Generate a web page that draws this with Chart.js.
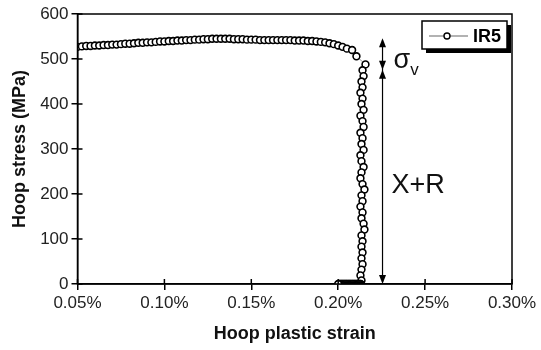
<!DOCTYPE html>
<html>
<head>
<meta charset="utf-8">
<script src="https://cdn.jsdelivr.net/npm/chart.js@4.4.1/dist/chart.umd.min.js"></script>
<style>
html,body{margin:0;padding:0;background:#fff;}
canvas{display:block;}
</style>
</head>
<body>
<canvas id="c" width="541" height="350"></canvas>
<script>
// ---- data (hoop plastic strain in %, hoop stress in MPa) ----
const seriesName = 'IR5';
const strain = [
  0.0500,0.0525,0.0550,0.0575,0.0600,0.0625,0.0650,0.0675,0.0700,0.0725,
  0.0750,0.0775,0.0800,0.0825,0.0850,0.0875,0.0900,0.0925,0.0950,0.0975,
  0.1000,0.1025,0.1050,0.1075,0.1100,0.1125,0.1150,0.1175,0.1200,0.1225,
  0.1250,0.1275,0.1300,0.1325,0.1350,0.1375,0.1400,0.1425,0.1450,0.1475,
  0.1500,0.1525,0.1550,0.1575,0.1600,0.1625,0.1650,0.1675,0.1700,0.1725,
  0.1750,0.1775,0.1800,0.1825,0.1850,0.1875,0.1900,0.1925,0.1950,0.1975,
  0.2000,0.2025,0.2050,0.2080,0.2105,0.2157,
  0.2140,0.2146,0.2134,0.2140,0.2128,0.2140,0.2134,0.2146,0.2128,0.2140,
  0.2146,0.2128,0.2140,0.2134,0.2146,0.2128,0.2134,0.2146,0.2134,0.2128,
  0.2140,0.2151,0.2134,0.2140,0.2128,0.2140,0.2134,0.2146,0.2151,0.2134,
  0.2140,0.2134,0.2140,0.2134,0.2140,0.2134,0.2128,0.2134,
  0.2130,0.2125,0.2120,0.2115,0.2110,0.2105,0.2100,0.2095,0.2090,0.2085,
  0.2080,0.2075,0.2070,0.2065,0.2060,0.2055,0.2050,0.2045,0.2040,0.2035,
  0.2030,0.2025,0.2020,0.2015,0.2010,0.2005,0.2000
];
const stress = [
  527,528,529,529,530,530,531,531,532,532,
  533,534,534,535,536,536,537,537,538,539,
  539,540,540,541,541,542,542,543,543,544,
  544,545,545,545,545,545,544,544,544,543,
  543,543,542,542,542,542,542,542,542,542,
  541,541,541,540,540,539,538,537,535,533,
  530,527,523,520,506,488,
  475,462,450,437,425,412,400,387,374,362,
  349,336,324,311,298,286,273,260,248,235,
  222,210,197,184,172,159,146,134,121,108,
  95,83,70,57,44,32,19,8,
  0,0,0,0,0,0,0,0,0,0,
  0,0,0,0,0,0,0,0,0,0,
  0,0,0,0,0,0,0
];
const xTicks = [0.05,0.10,0.15,0.20,0.25,0.30];
const yTicks = [0,100,200,300,400,500,600];
// annotation arrow: strain position, top (max stress), split (X+R level), bottom
const arrowStrain = 0.2255;
const arrowLevels = [546, 476, 0];
const labelSigma = 'σ';
const labelSigmaSub = 'v';
const labelXR = 'X+R';
const xTitle = 'Hoop plastic strain';
const yTitle = 'Hoop stress (MPa)';

const FONT = '"Liberation Sans", Arial, Helvetica, sans-serif';
const points = strain.map((s, i) => ({x: s, y: stress[i]}));

function head(ctx, x, y, dir, w, l) {
  ctx.beginPath();
  ctx.moveTo(x, y);
  ctx.lineTo(x - w / 2, y - dir * l);
  ctx.lineTo(x + w / 2, y - dir * l);
  ctx.closePath();
  ctx.fill();
}

const annot = {
  id: 'annot',
  afterDraw(chart) {
    const {ctx, chartArea: a, scales: {x, y}} = chart;
    ctx.save();
    ctx.strokeStyle = '#000';
    ctx.fillStyle = '#000';
    ctx.lineWidth = 1.5;
    ctx.strokeRect(a.left, a.top, a.right - a.left, a.bottom - a.top);
    ctx.beginPath();
    xTicks.forEach(v => { const px = x.getPixelForValue(v); ctx.moveTo(px, a.bottom); ctx.lineTo(px, a.bottom - 5); });
    yTicks.forEach(v => { const py = y.getPixelForValue(v); ctx.moveTo(a.left, py); ctx.lineTo(a.left + 5, py); });
    ctx.stroke();
    const ax = x.getPixelForValue(arrowStrain);
    const yt = y.getPixelForValue(arrowLevels[0]);
    const ym = y.getPixelForValue(arrowLevels[1]);
    const yb = y.getPixelForValue(arrowLevels[2]);
    ctx.lineWidth = 1.2;
    ctx.beginPath(); ctx.moveTo(ax, yt + 2); ctx.lineTo(ax, yb - 2); ctx.stroke();
    head(ctx, ax, yt, -1, 7, 9);
    head(ctx, ax, ym, 1, 7, 9);
    head(ctx, ax, ym, -1, 7, 9);
    head(ctx, ax, yb, 1, 7, 9);
    ctx.fillStyle = '#111';
    ctx.textBaseline = 'alphabetic';
    ctx.textAlign = 'left';
    ctx.font = '27px ' + FONT;
    ctx.fillText(labelSigma, ax + 11, ym - 2);
    const sw = ctx.measureText(labelSigma).width;
    ctx.font = '17px ' + FONT;
    ctx.fillText(labelSigmaSub, ax + 11 + sw, ym + 5);
    ctx.font = '27px ' + FONT;
    ctx.fillText(labelXR, ax + 9, y.getPixelForValue(202));
    const lx = a.right - 90, ly = a.top + 7, lw = 85, lh = 28;
    ctx.fillStyle = '#000';
    ctx.fillRect(lx + 4, ly + 4, lw, lh);
    ctx.fillStyle = '#fff';
    ctx.fillRect(lx, ly, lw, lh);
    ctx.lineWidth = 1.5;
    ctx.strokeStyle = '#000';
    ctx.strokeRect(lx, ly, lw, lh);
    const cy = ly + lh / 2 + 1;
    ctx.strokeStyle = '#999';
    ctx.lineWidth = 1.5;
    ctx.beginPath(); ctx.moveTo(lx + 7, cy); ctx.lineTo(lx + 46, cy); ctx.stroke();
    ctx.beginPath(); ctx.arc(lx + 25, cy, 3, 0, Math.PI * 2);
    ctx.fillStyle = '#fff'; ctx.fill();
    ctx.strokeStyle = '#000'; ctx.lineWidth = 1.4; ctx.stroke();
    ctx.fillStyle = '#000';
    ctx.font = 'bold 18px ' + FONT;
    ctx.textBaseline = 'middle';
    ctx.fillText(seriesName, lx + 51, cy + 1);
    ctx.restore();
  }
};

new Chart(document.getElementById('c'), {
  type: 'scatter',
  data: {
    datasets: [{
      label: seriesName,
      data: points,
      showLine: true,
      borderColor: '#999',
      borderWidth: 1,
      pointRadius: 3.4,
      pointBorderWidth: 1.6,
      pointBorderColor: '#000',
      pointBackgroundColor: '#fff',
      pointHoverRadius: 3.4
    }]
  },
  options: {
    responsive: false,
    animation: false,
    events: [],
    layout: {padding: {top: 14, right: 29, left: 0, bottom: 0}},
    plugins: {legend: {display: false}, tooltip: {enabled: false}},
    scales: {
      x: {
        type: 'linear',
        min: 0.05, max: 0.30,
        afterBuildTicks(s) { s.ticks = xTicks.map(v => ({value: v})); },
        afterFit(s) { s.height = 66; },
        ticks: {
          callback: v => v.toFixed(2) + '%',
          color: '#222', padding: 3,
          font: {family: FONT, size: 17},
          maxRotation: 0, autoSkip: false
        },
        grid: {drawOnChartArea: false, drawTicks: true, tickLength: 6, color: '#000', lineWidth: 1.5},
        border: {display: true, color: '#000', width: 1.5},
        title: {display: true, text: xTitle, color: '#111', font: {family: FONT, size: 18, weight: 'bold'}, padding: {top: 0, bottom: 5}}
      },
      y: {
        min: 0, max: 600,
        afterBuildTicks(s) { s.ticks = yTicks.map(v => ({value: v})); },
        afterFit(s) { s.width = 77.5; },
        ticks: {
          color: '#222', padding: 3,
          font: {family: FONT, size: 17}
        },
        grid: {drawOnChartArea: false, drawTicks: true, tickLength: 6, color: '#000', lineWidth: 1.5},
        border: {display: true, color: '#000', width: 1.5},
        title: {display: true, text: yTitle, color: '#111', font: {family: FONT, size: 18, weight: 'bold'}, padding: {top: 9, bottom: 0}}
      }
    }
  },
  plugins: [annot]
});
</script>
</body>
</html>
